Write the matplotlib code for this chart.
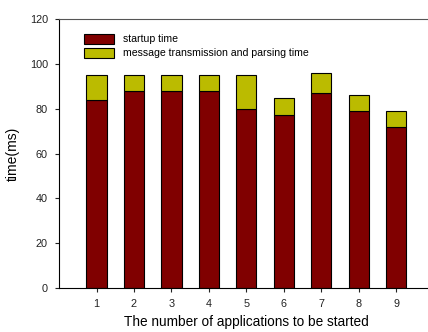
import numpy as np
import matplotlib
matplotlib.use('Agg')
import matplotlib.pyplot as plt

plt.rcParams['font.family'] = ['Liberation Sans', 'DejaVu Sans']

# data
apps = [1, 2, 3, 4, 5, 6, 7, 8, 9]
startup = [84, 88, 88, 88, 80, 77, 87, 79, 72]
message = [11, 7, 7, 7, 15, 8, 9, 7, 7]

fig = plt.figure(figsize=(4.28, 3.32), dpi=100)
ax = fig.add_axes([0.138, 0.1325, 0.875, 0.81])

x = np.array(apps)
w = 0.54
ax.bar(x, startup, w, color='#800000', edgecolor='black', linewidth=0.8,
       label='startup time')
ax.bar(x, message, w, bottom=startup, color='#BBBB00', edgecolor='black',
       linewidth=0.8, label='message transmission and parsing time')

ax.set_xlim(0, 10)
ax.set_ylim(0, 120)
ax.set_xticks(apps)
ax.set_yticks(range(0, 121, 20))
ax.tick_params(labelsize=7.8, length=3, width=0.8, pad=5, colors='#222222')
ax.spines['right'].set_visible(False)
ax.spines['top'].set_color('#555555')
ax.set_xlabel('The number of applications to be started', fontsize=9.8, labelpad=4)
ax.set_ylabel('time(ms)', fontsize=10, labelpad=7)
ax.legend(loc='upper left', bbox_to_anchor=(0.055, 0.96), frameon=False,
          fontsize=7.6, handlelength=2.9, handleheight=1.0, labelspacing=0.35,
          borderaxespad=0)

fig.savefig('out.png', dpi=100)
